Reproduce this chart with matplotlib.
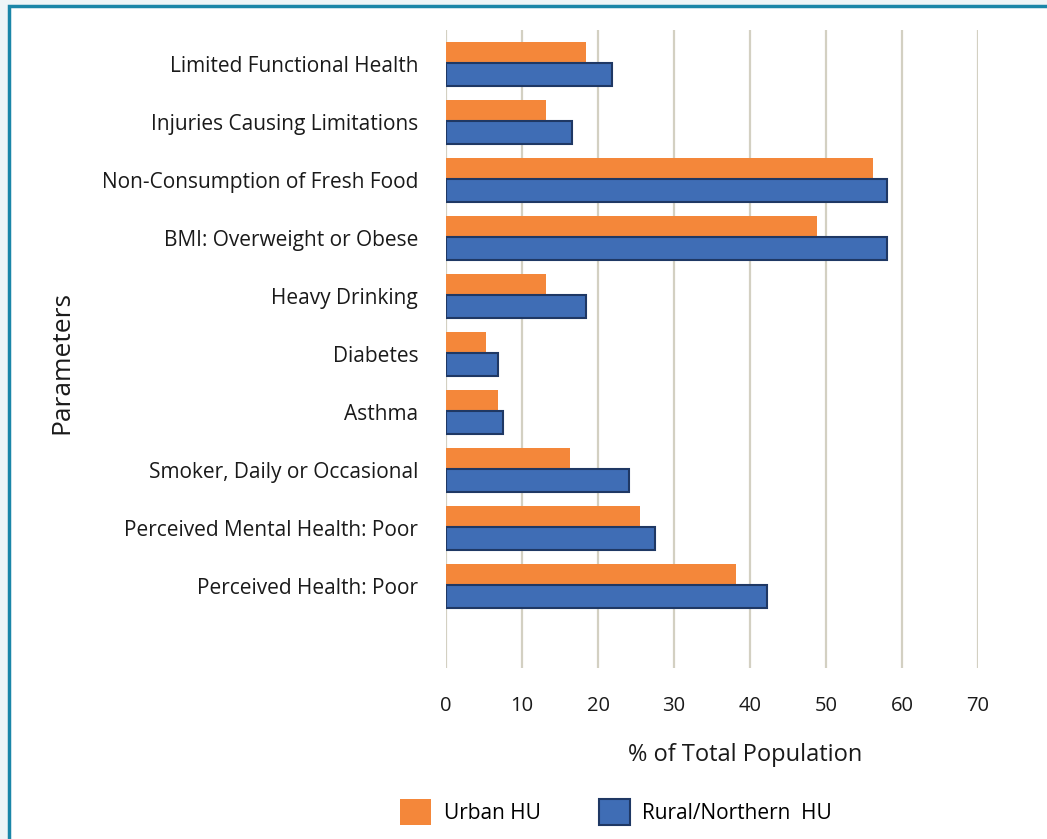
import matplotlib.pyplot as plt
import matplotlib.patches as mpatches
import numpy as np

categories = ['Limited Functional Health', 'Injuries Causing Limitations',
              'Non-Consumption of Fresh Food', 'BMI: Overweight or Obese',
              'Heavy Drinking', 'Diabetes', 'Asthma',
              'Smoker, Daily or Occasional', 'Perceived Mental Health: Poor',
              'Perceived Health: Poor']
urban = [18.4, 13.1, 56.2, 48.8, 13.1, 5.3, 6.9, 16.3, 25.5, 38.2]
rural = [21.8, 16.6, 58.0, 58.0, 18.4, 6.8, 7.5, 24.1, 27.5, 42.2]
xticks = [0, 10, 20, 30, 40, 50, 60, 70]

plt.rcParams['font.family'] = ['Open Sans', 'DejaVu Sans']
txt = '#1a1a1a'

fig = plt.figure(figsize=(10.47, 8.39), dpi=100)
fig.patch.set_facecolor('#eef5f7')

# white panel with teal frame
frame = mpatches.Rectangle((9 / 1047, -0.05), 1.2, 1 - 6 / 839 + 0.05,
                           transform=fig.transFigure, facecolor='white',
                           edgecolor='#1a86a8', linewidth=2.5, zorder=-10)
fig.patches.append(frame)

ax = fig.add_axes([446 / 1047, 1 - 668 / 839, 532 / 1047, 638 / 839])
ax.set_facecolor('none')

y = np.arange(len(categories))
h = 0.40
ax.barh(y - 0.19, urban, height=h, color='#f4873a', zorder=2)
ax.barh(y + 0.18, rural, height=h, color='#3f6db5', edgecolor='#1f3864',
        linewidth=1.5, zorder=3)

ax.set_xlim(0, 70)
ax.set_ylim(len(categories) - 1 + 1.41, -0.59)
ax.set_xticks(xticks)
ax.set_yticks(y)
ax.set_yticklabels(categories, fontsize=15, color=txt)
ax.tick_params(axis='y', length=0, pad=20)
ax.tick_params(axis='x', length=0, pad=20, labelsize=14.5, labelcolor=txt)
ax.grid(axis='x', color='#d3d0c2', linewidth=1.6, zorder=1)
ax.set_axisbelow(True)
for s in ax.spines.values():
    s.set_visible(False)

ax.set_xlabel('% of Total Population', fontsize=17, color=txt)
ax.xaxis.set_label_coords((745 - 446) / 532, -(755 - 668) / 638)
ax.xaxis.label.set_va('center')
fig.text(62 / 1047, 1 - 362 / 839, 'Parameters', rotation=90, fontsize=19,
         color=txt, ha='center', va='center')

handles = [mpatches.Patch(facecolor='#f4873a', label='Urban HU'),
           mpatches.Patch(facecolor='#3f6db5', edgecolor='#1f3864',
                          linewidth=1.5, label='Rural/Northern  HU')]
fig.legend(handles=handles, loc='center', bbox_to_anchor=(616 / 1047, 1 - 812 / 839),
           ncol=2, frameon=False, fontsize=15, handlelength=1.5, handleheight=1.5,
           columnspacing=2.8, handletextpad=0.6)

plt.savefig('out.png', dpi=100, facecolor=fig.get_facecolor())
